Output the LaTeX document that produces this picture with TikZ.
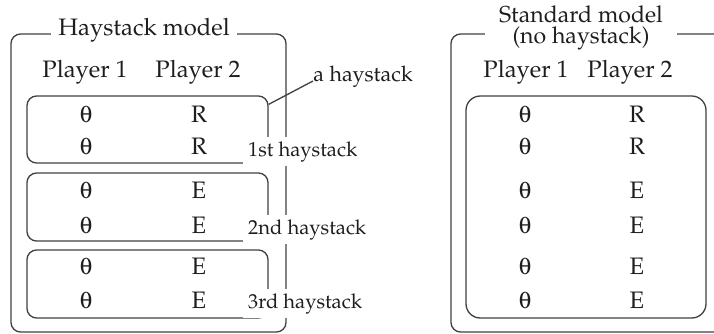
\documentclass[tikz,border=0pt]{standalone}
\usepackage[T1]{fontenc}
\usepackage{mathpazo}
\usepackage[Symbol]{upgreek}
\usetikzlibrary{fit,calc}
\definecolor{LineColor}{RGB}{64,64,64}
\definecolor{TextColor}{RGB}{30,30,30}

\begin{document}
\begin{tikzpicture}[x=0.42pt, y=-0.42pt, font=\normalsize, text=TextColor,
    outerbox/.style={draw=LineColor, line width=0.55pt, rounded corners=4pt, inner sep=0pt},
    stackbox/.style={draw=LineColor, line width=0.55pt, rounded corners=4pt, inner sep=0pt},
    title/.style={fill=white, inner xsep=3pt, inner ysep=2pt},
    cell/.style={inner sep=0pt, anchor=base},
    tag/.style={fill=white, inner sep=2pt, font=\fontsize{8.5pt}{10pt}\selectfont, anchor=base west}]
  \useasboundingbox (0,0) rectangle (714,333);

  % haystack model
  \node[outerbox, fit={(11,34) (286,332)}] (haymodel) {};
  \node[title, anchor=base] (haytitle) at (144,35) {Haystack model};
  \node[cell] (hp1) at (85,77) {Player 1};
  \node[cell] (hp2) at (198,77) {Player 2};
  \node[stackbox, fit={(27,96) (268,163)}] (hs1) {};
  \node[stackbox, fit={(27,173) (268,241)}] (hs2) {};
  \node[stackbox, fit={(27,250) (268,318)}] (hs3) {};
  \foreach \y/\s [count=\i] in {122/R, 154/R, 198/E, 233/E, 274/E, 308/E} {
    \node[cell] (ht\i) at (86,\y) {$\uptheta$};
    \node[cell] (hr\i) at (199,\y) {\s};
  }
  \node[tag] (tag1) at (243,156) {1st haystack};
  \node[tag] (tag2) at (243,234) {2nd haystack};
  \node[tag] (tag3) at (243,308) {3rd haystack};
  \node[cell, anchor=base west, font=\small] (hay) at (313,81) {a haystack};
  \draw[LineColor, line width=0.55pt] ($(hs1.north east)+(0,9)$) -- (hay.base west);

  % standard model
  \node[outerbox, fit={(451,34) (760,332)}] (stdmodel) {};
  \node[title, align=center, inner xsep=6pt, inner ysep=1pt,
        font=\fontsize{9.7pt}{8.6pt}\selectfont] (stdtitle) at (581,28)
    {Standard model\\(no haystack)};
  \node[cell] (sp1) at (526,77) {Player 1};
  \node[cell] (sp2) at (630,77) {Player 2};
  \node[stackbox, rounded corners=6pt, fit={(466,96) (706,318)}] (sbox) {};
  \foreach \y/\s [count=\i] in {122/R, 154/R, 198/E, 233/E, 274/E, 308/E} {
    \node[cell] (st\i) at (525,\y) {$\uptheta$};
    \node[cell] (sr\i) at (637,\y) {\s};
  }
\end{tikzpicture}
\end{document}
